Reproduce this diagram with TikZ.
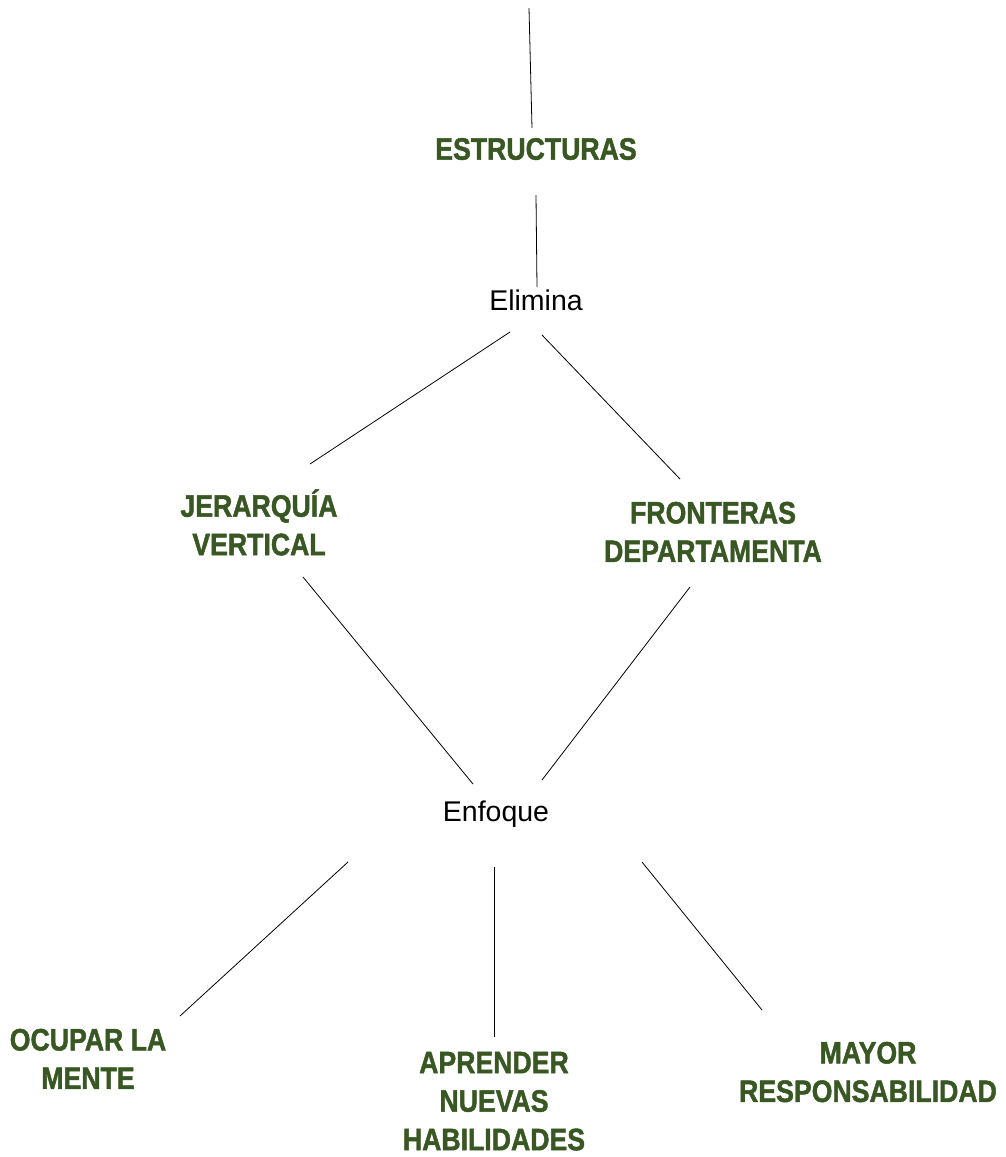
\documentclass[tikz,border=0pt]{standalone}
\usepackage{fontspec}
\setmainfont{Liberation Sans}
\newfontfamily\heavyfont[BoldFeatures={FakeBold=1.6}]{Liberation Sans}
\usepackage{graphicx}
\definecolor{dkgreen}{HTML}{385723}
\newcommand\greentext[1]{\scalebox{0.86}[1]{\begin{tabular}{@{}c@{}}#1\end{tabular}}}
\tikzset{
  gnode/.style={inner sep=0pt, text=dkgreen, font=\heavyfont\fontsize{31}{38.5}\selectfont\bfseries},
  pnode/.style={inner sep=0pt, font=\fontsize{28.5}{34}\selectfont},
  link/.style={draw=black, line width=0.8pt}
}
\begin{document}
\begin{tikzpicture}[x=1pt,y=-1pt]
\useasboundingbox (0,0) rectangle (1005,1157);
% nodes
\node[gnode] (estr) at (536,152) {\greentext{ESTRUCTURAS}};
\node[pnode] (elim) at (536,300) {Elimina};
\node[gnode] (jer) at (259,528) {\greentext{JERARQUÍA\\VERTICAL}};
\node[gnode] (fron) at (713,535) {\greentext{FRONTERAS\\DEPARTAMENTA}};
\node[pnode] (enf) at (496,814) {Enfoque};
\node[gnode] (ocu) at (88,1062) {\greentext{OCUPAR LA\\MENTE}};
\node[gnode] (apr) at (494,1104) {\greentext{APRENDER\\NUEVAS\\HABILIDADES}};
\node[gnode] (may) at (868,1075) {\greentext{MAYOR\\RESPONSABILIDAD}};
% connector end points
\coordinate (top) at (529,8);
\coordinate (estrN) at (532,128);
\coordinate (estrS) at (536,195);
\coordinate (elimN) at (537,287);
\coordinate (elimSW) at (510,332);
\coordinate (elimSE) at (542,335);
\coordinate (jerN) at (310,464);
\coordinate (fronN) at (680,479);
\coordinate (jerS) at (303,577);
\coordinate (fronS) at (690,587);
\coordinate (enfNW) at (473,784);
\coordinate (enfNE) at (542,780);
\coordinate (enfSW) at (348,862);
\coordinate (enfS) at (494,867);
\coordinate (enfSE) at (642,862);
\coordinate (ocuN) at (180,1016);
\coordinate (aprN) at (494,1037);
\coordinate (mayN) at (762,1010);
% connectors
\draw[link] (top) -- (estrN);
\draw[link] (estrS) -- (elimN);
\draw[link] (elimSW) -- (jerN);
\draw[link] (elimSE) -- (fronN);
\draw[link] (jerS) -- (enfNW);
\draw[link] (fronS) -- (enfNE);
\draw[link] (enfSW) -- (ocuN);
\draw[link] (enfS) -- (aprN);
\draw[link] (enfSE) -- (mayN);
\end{tikzpicture}
\end{document}
